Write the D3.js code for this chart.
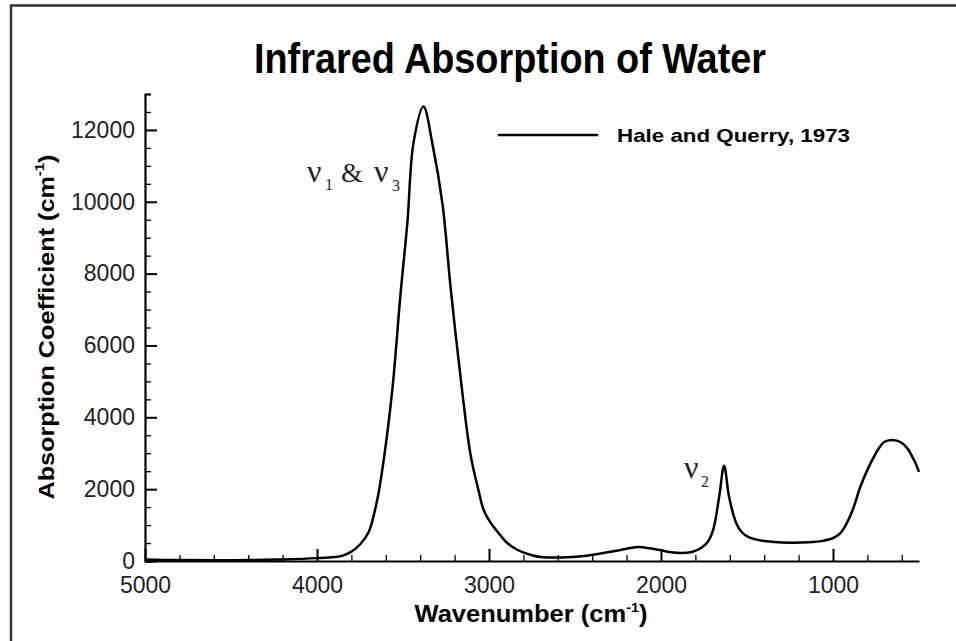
<!DOCTYPE html>
<html>
<head>
  <script src="https://d3js.org/d3.v7.min.js"></script>
  <style>
    body {
      margin: 0;
      background-color: #fff;
      overflow: hidden;
    }
    text {
      font-family: "Liberation Sans", Arial, sans-serif;
    }
  </style>
</head>
<body>
  <script>
    // Hale and Querry (1973)
    const wavenumber = [5000, 4800, 4600, 4400, 4200, 4000, 3900, 3850, 3800, 3750,
      3700, 3650, 3614, 3561, 3515, 3474, 3439, 3381, 3328, 3270,
      3223, 3165, 3107, 3060, 3031, 2990, 2950, 2900, 2833, 2750, 2699, 2600,
      2542, 2450, 2350, 2250, 2180, 2134, 2050, 2000, 1950, 1884, 1820,
      1767, 1730, 1697, 1662, 1633, 1604, 1563, 1530, 1493, 1420,
      1342, 1250, 1144, 1060, 998, 960, 934, 900, 876, 840,
      794, 760, 736, 700, 660, 630, 602, 570, 544, 520, 500];
    const absorption = [40, 25, 20, 25, 45, 80, 110, 150, 260, 460,
      800, 1700, 2750, 4820, 7400, 9450, 11640, 12650, 11590, 9920,
      7600, 5100, 2950, 1950, 1420, 1060, 810, 530, 306, 160, 110, 95,
      105, 140, 210, 290, 360, 390, 340, 300, 250, 220, 250,
      360, 520, 860, 1780, 2650, 1780, 1060, 800, 670, 570,
      530, 510, 520, 560, 640, 760, 930, 1250, 1550, 2080,
      2600, 2920, 3120, 3320, 3370, 3350, 3290, 3150, 2950, 2720, 2480];

    const xMajorTicks = [5000, 4000, 3000, 2000, 1000];
    const yMajorTicks = [0, 2000, 4000, 6000, 8000, 10000, 12000];
    const title = "Infrared Absorption of Water";
    const legendLabel = "Hale and Querry, 1973";

    const width = 956;
    const height = 641;

    const svg = d3.select("body").append("svg")
      .attr("width", width)
      .attr("height", height);

    // page frame (left and top edges)
    svg.append("path")
      .attr("d", "M11,641V5.5H956")
      .attr("fill", "none")
      .attr("stroke", "#333")
      .attr("stroke-width", 2.5);

    const x = d3.scaleLinear().domain([5000, 500]).range([145, 919]);
    const y = d3.scaleLinear().domain([0, 13000]).range([561, 94]);

    // minor ticks
    svg.append("g")
      .attr("transform", `translate(0,${y(0)})`)
      .call(d3.axisBottom(x)
        .tickValues(d3.range(5000, 499, -200).filter(v => v % 1000 !== 0))
        .tickSize(-6).tickFormat(""))
      .call(g => g.select(".domain").remove())
      .selectAll("line").attr("stroke-width", 1.3);

    svg.append("g")
      .attr("transform", `translate(${x(5000)},0)`)
      .call(d3.axisLeft(y)
        .tickValues(d3.range(0, 13001, 500).filter(v => v % 2000 !== 0))
        .tickSize(-6).tickFormat(""))
      .call(g => g.select(".domain").remove())
      .selectAll("line").attr("stroke-width", 1.3);

    // major axes
    const xAxis = svg.append("g")
      .attr("transform", `translate(0,${y(0)})`)
      .call(d3.axisBottom(x)
        .tickValues(xMajorTicks)
        .tickSizeInner(-12).tickSizeOuter(0).tickPadding(16)
        .tickFormat(d3.format("d")))
      .attr("font-size", 23)
      .attr("font-family", null);
    xAxis.select(".domain").attr("stroke-width", 2.2);
    xAxis.selectAll(".tick line").attr("stroke-width", 2);
    xAxis.selectAll("text").attr("fill", "#222");

    const yAxis = svg.append("g")
      .attr("transform", `translate(${x(5000)},0)`)
      .call(d3.axisLeft(y)
        .tickValues(yMajorTicks)
        .tickSizeInner(-12).tickSizeOuter(-6).tickPadding(10)
        .tickFormat(d3.format("d")))
      .attr("font-size", 23)
      .attr("font-family", null);
    yAxis.select(".domain").attr("stroke-width", 2.2);
    yAxis.selectAll(".tick line").attr("stroke-width", 2);
    yAxis.selectAll("text").attr("fill", "#222");

    // spectrum
    const line = d3.line()
      .x(d => x(d[0]))
      .y(d => y(d[1]))
      .curve(d3.curveCatmullRom.alpha(0.5));

    svg.append("path")
      .datum(d3.zip(wavenumber, absorption))
      .attr("d", line)
      .attr("fill", "none")
      .attr("stroke", "#000")
      .attr("stroke-width", 2.5)
      .attr("stroke-linejoin", "round");

    // title
    svg.append("text")
      .attr("x", 510)
      .attr("y", 73)
      .attr("text-anchor", "middle")
      .attr("font-size", 43)
      .attr("font-weight", "bold")
      .attr("textLength", 512)
      .attr("lengthAdjust", "spacingAndGlyphs")
      .text(title);

    // axis titles
    const xLabel = svg.append("text")
      .attr("x", 531)
      .attr("y", 622)
      .attr("text-anchor", "middle")
      .attr("font-size", 23)
      .attr("font-weight", "bold")
      .attr("textLength", 233)
      .attr("lengthAdjust", "spacingAndGlyphs");
    xLabel.append("tspan").text("Wavenumber (cm");
    xLabel.append("tspan").attr("font-size", 13).attr("dy", -10).text("-1");
    xLabel.append("tspan").attr("dy", 10).text(")");

    const yLabel = svg.append("text")
      .attr("transform", "translate(54,327) rotate(-90)")
      .attr("text-anchor", "middle")
      .attr("font-size", 22)
      .attr("font-weight", "bold")
      .attr("textLength", 345)
      .attr("lengthAdjust", "spacingAndGlyphs");
    yLabel.append("tspan").text("Absorption Coefficient (cm");
    yLabel.append("tspan").attr("font-size", 13).attr("dy", -10).text("-1");
    yLabel.append("tspan").attr("dy", 10).text(")");

    // legend
    svg.append("line")
      .attr("x1", 498).attr("x2", 598)
      .attr("y1", 135).attr("y2", 135)
      .attr("stroke", "#000")
      .attr("stroke-width", 2.5);
    svg.append("text")
      .attr("x", 617)
      .attr("y", 142)
      .attr("font-size", 19)
      .attr("font-weight", "bold")
      .attr("textLength", 233)
      .attr("lengthAdjust", "spacingAndGlyphs")
      .text(legendLabel);

    // band labels
    const serif = "'Liberation Serif', 'Times New Roman', serif";
    const band13 = svg.append("text")
      .attr("y", 182)
      .attr("font-size", 32)
      .style("font-family", serif)
      .attr("fill", "#222");
    band13.append("tspan").attr("x", 307).text("ν");
    band13.append("tspan").attr("x", 325).attr("dy", 8).attr("font-size", 16).text("1");
    band13.append("tspan").attr("x", 341).attr("dy", -8).attr("font-size", 28).text("&");
    band13.append("tspan").attr("x", 374).text("ν");
    band13.append("tspan").attr("x", 392).attr("dy", 9).attr("font-size", 16).text("3");

    const band2 = svg.append("text")
      .attr("y", 478)
      .attr("font-size", 32)
      .style("font-family", serif)
      .attr("fill", "#222");
    band2.append("tspan").attr("x", 684).text("ν");
    band2.append("tspan").attr("x", 701).attr("dy", 9).attr("font-size", 16).text("2");
  </script>
</body>
</html>
